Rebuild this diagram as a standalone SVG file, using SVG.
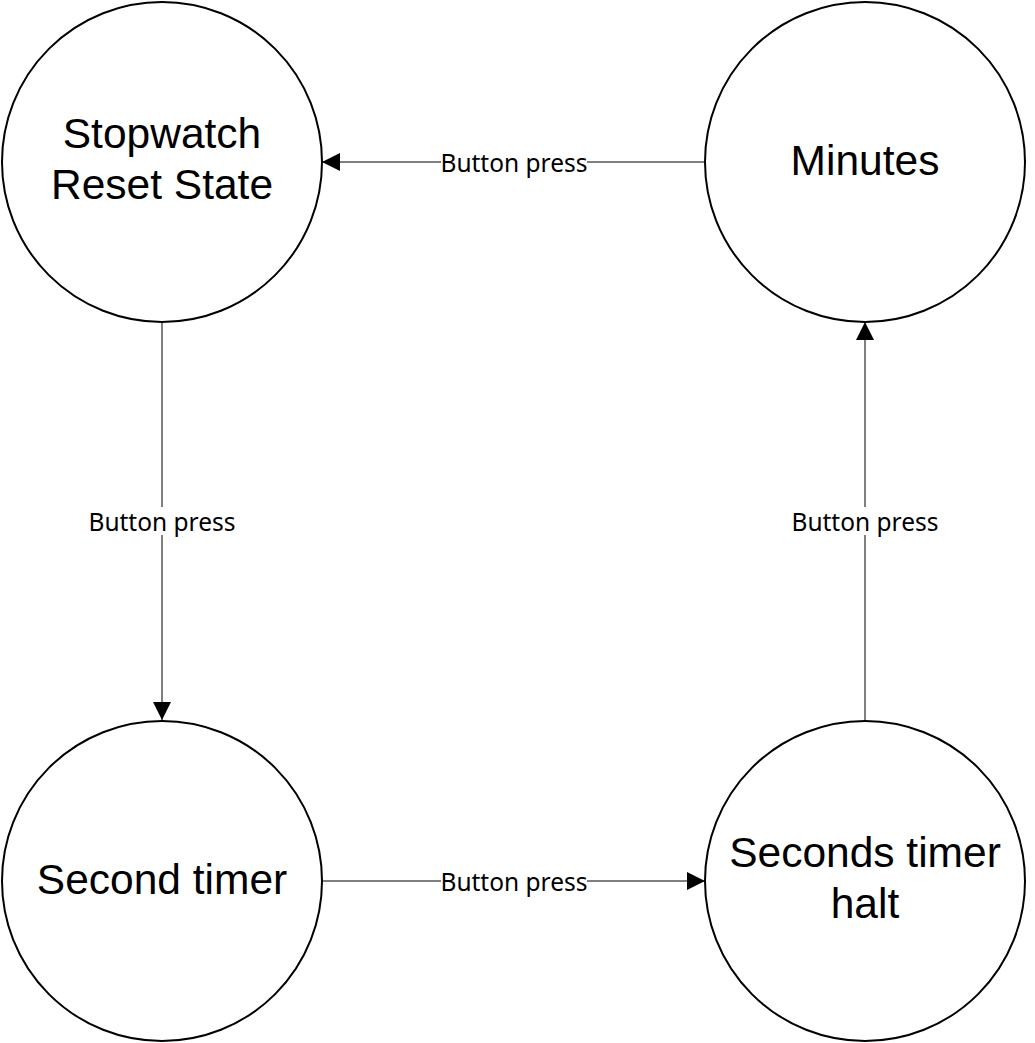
<svg xmlns="http://www.w3.org/2000/svg" width="1035" height="1043" viewBox="0 0 1035 1043">
<style>
.node{fill:#fff;stroke:#000;stroke-width:2}
.nt{font-family:"Liberation Sans",Arial,sans-serif;font-size:42.5px;fill:#000;text-anchor:middle}
.edge{stroke:#000;stroke-width:1;fill:none}
.lbl{font-family:"Noto Sans","Open Sans",sans-serif;font-size:24.5px;fill:#000;text-anchor:middle;dominant-baseline:central}
.lbg{fill:#fff}
</style>
<defs>
<marker id="arr" markerWidth="18" markerHeight="18" refX="18" refY="9" orient="auto" markerUnits="userSpaceOnUse">
<path d="M0,0 L18,9 L0,18 Z" fill="#000"/>
</marker>
</defs>
<rect width="1035" height="1043" fill="#fff"/>
<g id="connectors">
<line class="edge" x1="705" y1="162" x2="322" y2="162" marker-end="url(#arr)"/>
<line class="edge" x1="162" y1="322" x2="162" y2="720" marker-end="url(#arr)"/>
<line class="edge" x1="322" y1="881" x2="705" y2="881" marker-end="url(#arr)"/>
<line class="edge" x1="865" y1="720" x2="865" y2="322" marker-end="url(#arr)"/>
<rect class="lbg" x="441" y="148" width="146" height="28"/>
<text class="lbl" x="514" y="162">Button press</text>
<rect class="lbg" x="89" y="507" width="146" height="28"/>
<text class="lbl" x="162" y="521">Button press</text>
<rect class="lbg" x="441" y="867" width="146" height="28"/>
<text class="lbl" x="514" y="881">Button press</text>
<rect class="lbg" x="792" y="507" width="146" height="28"/>
<text class="lbl" x="865" y="521">Button press</text>
</g>
<g id="reset">
<circle class="node" cx="162" cy="162" r="160"/>
<text class="nt" x="162" y="148">Stopwatch</text>
<text class="nt" x="162" y="199">Reset State</text>
</g>
<g id="minutes">
<circle class="node" cx="865" cy="162" r="160"/>
<text class="nt" x="865" y="175">Minutes</text>
</g>
<g id="second-timer">
<circle class="node" cx="162" cy="881" r="160"/>
<text class="nt" x="162" y="894">Second timer</text>
</g>
<g id="seconds-halt">
<circle class="node" cx="865" cy="881" r="160"/>
<text class="nt" x="865" y="867">Seconds timer</text>
<text class="nt" x="865" y="918">halt</text>
</g>
</svg>
